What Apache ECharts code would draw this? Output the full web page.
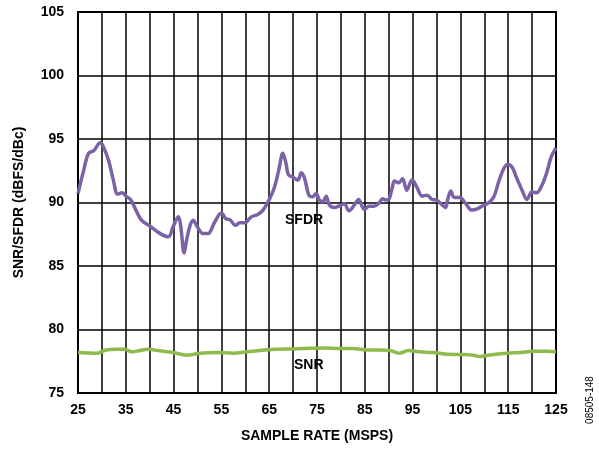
<!DOCTYPE html>
<html><head><meta charset="utf-8">
<script src="https://cdn.jsdelivr.net/npm/echarts@6/dist/echarts.min.js"></script>
<style>html,body{margin:0;padding:0;background:#fff}#c{width:599px;height:450px}</style>
</head><body><div id="c"></div>
<script>
const sfdrX = [25,26.2,27.2,28.3,29.65,30.3,31.4,32.4,33.3,34.2,35.2,36,37.3,38.3,40.1,42.2,43.9,44.9,46,46.5,47.2,47.7,48.4,49.1,49.9,51.2,52.2,53.6,55,56,56.7,58,58.8,59.9,61.25,62.6,63.7,65.1,66.1,67,67.85,68.5,69,69.9,71,71.7,72.4,73.3,74.1,74.8,75.5,76.2,76.9,77.6,78.6,80,80.7,81.7,82.8,83.7,84.9,85.9,86.9,88,88.7,89.4,90,90.7,91.2,92.1,92.9,93.8,94.9,95.9,97,98,99.1,100.1,101.2,101.9,102.3,103,103.7,104.9,106,107.4,108.5,109.9,110.9,112,113,114.1,114.9,115.8,116.8,117.9,118.9,120,120.9,122.1,123.1,124,125];
const sfdrY = [90.7,92.55,93.87,94.08,94.7,94.4,93.3,91.76,90.66,90.76,90.45,90.24,89.26,88.6,88.13,87.55,87.3,88.1,88.87,88.1,86.03,87.0,88.13,88.6,88.13,87.55,87.55,88.47,89.18,88.7,88.66,88.2,88.4,88.4,88.87,89.05,89.4,90.3,91.2,92.55,93.87,93.1,92.2,92.0,91.76,92.34,91.9,90.58,90.45,90.7,90.2,90.05,90.5,89.8,89.6,89.8,89.9,89.35,89.8,90.24,89.45,89.7,89.7,89.97,90.3,90.2,90.24,91.1,91.7,91.55,91.87,90.97,91.8,91.2,90.5,90.58,90.24,90.18,89.8,89.6,90.18,90.9,90.4,90.4,89.97,89.4,89.5,89.8,89.97,90.45,91.63,92.7,93.0,92.8,91.9,90.97,90.24,90.84,90.76,91.4,92.4,93.6,94.3];
const snrX = [25,28.8,30.9,33,34.8,36.2,37.9,39.6,42.1,44.9,47.7,50.5,54,57.5,60.2,63,66.5,70,73.5,76.3,79.8,82.6,85.4,88.2,90.3,92.3,94.1,96.5,99.3,102.1,104.9,107.7,109.1,111.2,114.7,117.5,120.3,123.1,125];
const snrY = [78.19,78.13,78.39,78.45,78.45,78.24,78.34,78.45,78.32,78.19,77.98,78.13,78.19,78.13,78.24,78.34,78.45,78.47,78.52,78.55,78.5,78.5,78.39,78.39,78.34,78.13,78.34,78.24,78.19,78.05,78.03,77.98,77.87,78.0,78.13,78.19,78.29,78.29,78.24];
const xTickLabels = ['25','35','45','55','65','75','85','95','105','115','125'];
const yTickLabels = ['75','80','85','90','95','100','105'];

const zip = (a,b)=>a.map((v,i)=>[v,b[i]]);
const F = 'Liberation Sans, Arial, sans-serif';
const chart = echarts.init(document.getElementById('c'), null, {renderer:'canvas'});
chart.setOption({
  animation:false,
  backgroundColor:'#fff',
  grid:{left:78,right:43,top:12,bottom:57,show:true,borderColor:'#000',borderWidth:2,backgroundColor:'transparent'},
  xAxis:{type:'value',min:25,max:125,interval:5,
    name:'SAMPLE RATE (MSPS)',nameLocation:'middle',nameGap:36,
    nameTextStyle:{fontFamily:F,fontWeight:'bold',fontSize:14,color:'#000'},
    axisLine:{show:true,lineStyle:{color:'#000',width:2}},
    axisTick:{show:false},
    splitLine:{show:true,lineStyle:{color:'#000',width:1.5}},
    axisLabel:{fontFamily:F,fontWeight:'bold',fontSize:14,color:'#000',margin:10,
      formatter:v=>{const s=String(Math.round(v));return xTickLabels.includes(s)?s:'';}}
  },
  yAxis:{type:'value',min:75,max:105,interval:5,
    name:'SNR/SFDR (dBFS/dBc)',nameLocation:'middle',nameGap:52,nameRotate:90,
    nameTextStyle:{fontFamily:F,fontWeight:'bold',fontSize:14,color:'#000'},
    axisLine:{show:true,lineStyle:{color:'#000',width:2}},
    axisTick:{show:false},
    splitLine:{show:true,lineStyle:{color:'#000',width:1.5}},
    axisLabel:{fontFamily:F,fontWeight:'bold',fontSize:14,color:'#000',margin:14,
      formatter:v=>{const s=String(Math.round(v));return yTickLabels.includes(s)?s:'';}}
  },
  series:[
    {name:'SFDR',type:'line',data:zip(sfdrX,sfdrY),smooth:0.35,showSymbol:false,
      lineStyle:{color:'#7b62a6',width:3.5},z:3},
    {name:'SNR',type:'line',data:zip(snrX,snrY),smooth:0.35,showSymbol:false,
      lineStyle:{color:'#8fba4e',width:3.5},z:3}
  ],
  graphic:[
    {type:'text',left:283,top:212,style:{text:'SFDR',fontFamily:F,fontWeight:'bold',fontSize:14,fill:'#000',backgroundColor:'#fff',padding:[1,2]}},
    {type:'text',left:292,top:357,style:{text:'SNR',fontFamily:F,fontWeight:'bold',fontSize:14,fill:'#000',backgroundColor:'#fff',padding:[1,2]}},
    {type:'text',x:590,y:400,rotation:Math.PI/2,style:{text:'08505-148',fontFamily:F,fontSize:10,fill:'#000',align:'center',verticalAlign:'middle'}}
  ]
});
</script></body></html>
